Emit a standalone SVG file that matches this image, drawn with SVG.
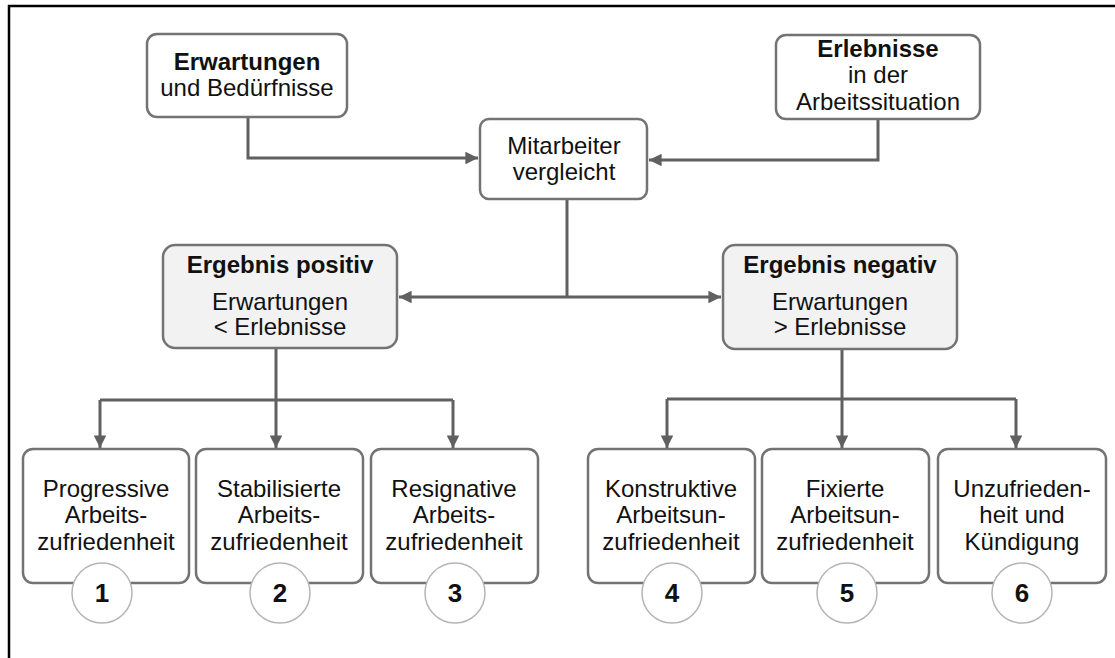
<svg xmlns="http://www.w3.org/2000/svg" width="1115" height="658" viewBox="0 0 1115 658">
  <style>
    .box { fill: #ffffff; stroke: #737373; stroke-width: 2.5; }
    .res { fill: #f2f2f2; stroke: #737373; stroke-width: 2.5; }
    .num { fill: #ffffff; stroke: #b5b5b5; stroke-width: 1.5; }
    .conn { fill: none; stroke: #606060; stroke-width: 3; }
    text { font-family: "Liberation Sans", Arial, sans-serif; font-size: 24px; fill: #111111; text-anchor: middle; }
    .b { font-weight: bold; }
    .n { font-weight: bold; font-size: 26px; }
  </style>
  <defs>
    <marker id="arrow" viewBox="0 0 10 10" refX="10" refY="5" markerWidth="4.2" markerHeight="4.2" markerUnits="strokeWidth" orient="auto">
      <path d="M0,0 L10,5 L0,10 Z" fill="#606060"/>
    </marker>
  </defs>

  <!-- frame -->
  <path d="M9,658 V6 H1115" fill="none" stroke="#000000" stroke-width="2.5"/>

  <!-- connectors -->
  <g id="connectors">
    <path class="conn" d="M248,117 V158 H478" marker-end="url(#arrow)"/>
    <path class="conn" d="M878,119 V160 H649" marker-end="url(#arrow)"/>
    <path class="conn" d="M567,199 V297"/>
    <path class="conn" d="M567,297 H399" marker-end="url(#arrow)"/>
    <path class="conn" d="M567,297 H721" marker-end="url(#arrow)"/>
    <path class="conn" d="M276,348 V400"/>
    <path class="conn" d="M100,400 H453"/>
    <path class="conn" d="M100,400 V448" marker-end="url(#arrow)"/>
    <path class="conn" d="M276,400 V448" marker-end="url(#arrow)"/>
    <path class="conn" d="M453,400 V448" marker-end="url(#arrow)"/>
    <path class="conn" d="M842,349 V399"/>
    <path class="conn" d="M667,399 H1016"/>
    <path class="conn" d="M667,399 V448" marker-end="url(#arrow)"/>
    <path class="conn" d="M842,399 V448" marker-end="url(#arrow)"/>
    <path class="conn" d="M1016,399 V448" marker-end="url(#arrow)"/>
  </g>

  <g id="erwartungen">
    <rect class="box" x="147" y="34" width="200" height="83" rx="10"/>
    <text x="247" y="70" class="b">Erwartungen</text>
    <text x="247" y="96">und Bedürfnisse</text>
  </g>

  <g id="erlebnisse">
    <rect class="box" x="776" y="35" width="204" height="84" rx="10"/>
    <text x="878" y="57" class="b">Erlebnisse</text>
    <text x="878" y="83">in der</text>
    <text x="878" y="110">Arbeitssituation</text>
  </g>

  <g id="mitarbeiter">
    <rect class="box" x="480" y="119" width="167" height="80" rx="9"/>
    <text x="564" y="154">Mitarbeiter</text>
    <text x="564" y="180">vergleicht</text>
  </g>

  <g id="positiv">
    <rect class="res" x="163" y="245" width="234" height="103" rx="12"/>
    <text x="280" y="273" class="b">Ergebnis positiv</text>
    <text x="280" y="310">Erwartungen</text>
    <text x="280" y="335">&lt; Erlebnisse</text>
  </g>

  <g id="negativ">
    <rect class="res" x="723" y="245" width="234" height="104" rx="12"/>
    <text x="840" y="273" class="b">Ergebnis negativ</text>
    <text x="840" y="310">Erwartungen</text>
    <text x="840" y="335">&gt; Erlebnisse</text>
  </g>

  <g id="typ1">
    <rect class="box" x="23" y="449" width="166" height="134" rx="10"/>
    <text x="106" y="497">Progressive</text>
    <text x="106" y="523">Arbeits-</text>
    <text x="106" y="550">zufriedenheit</text>
    <circle class="num" cx="102" cy="593" r="30"/>
    <text x="102" y="602" class="n">1</text>
  </g>

  <g id="typ2">
    <rect class="box" x="196" y="449" width="167" height="134" rx="10"/>
    <text x="279" y="497">Stabilisierte</text>
    <text x="279" y="523">Arbeits-</text>
    <text x="279" y="550">zufriedenheit</text>
    <circle class="num" cx="280" cy="593" r="30"/>
    <text x="280" y="602" class="n">2</text>
  </g>

  <g id="typ3">
    <rect class="box" x="371" y="449" width="167" height="134" rx="10"/>
    <text x="454" y="497">Resignative</text>
    <text x="454" y="523">Arbeits-</text>
    <text x="454" y="550">zufriedenheit</text>
    <circle class="num" cx="455" cy="593" r="30"/>
    <text x="455" y="602" class="n">3</text>
  </g>

  <g id="typ4">
    <rect class="box" x="588" y="449" width="167" height="134" rx="10"/>
    <text x="671" y="497">Konstruktive</text>
    <text x="671" y="523">Arbeitsun-</text>
    <text x="671" y="550">zufriedenheit</text>
    <circle class="num" cx="672" cy="593" r="30"/>
    <text x="672" y="602" class="n">4</text>
  </g>

  <g id="typ5">
    <rect class="box" x="762" y="449" width="167" height="134" rx="10"/>
    <text x="845" y="497">Fixierte</text>
    <text x="845" y="523">Arbeitsun-</text>
    <text x="845" y="550">zufriedenheit</text>
    <circle class="num" cx="847" cy="593" r="30"/>
    <text x="847" y="602" class="n">5</text>
  </g>

  <g id="typ6">
    <rect class="box" x="938" y="449" width="168" height="134" rx="10"/>
    <text x="1022" y="497">Unzufrieden-</text>
    <text x="1022" y="523">heit und</text>
    <text x="1022" y="550">Kündigung</text>
    <circle class="num" cx="1022" cy="593" r="30"/>
    <text x="1022" y="602" class="n">6</text>
  </g>
</svg>
